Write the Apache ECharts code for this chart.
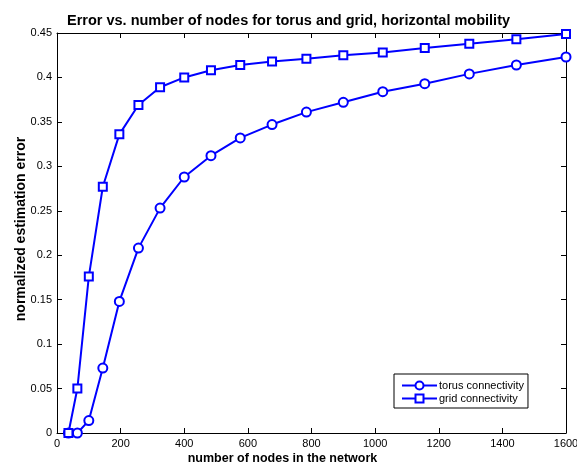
<!DOCTYPE html>
<html><head><meta charset="utf-8">
<script src="https://cdn.jsdelivr.net/npm/echarts@6/dist/echarts.min.js"></script>
<style>html,body{margin:0;padding:0;background:#fff;overflow:hidden}#c{width:577px;height:466px}</style>
</head><body><div id="c"></div>
<script>
const nodes = [36, 64, 100, 144, 196, 256, 324, 400, 484, 576, 676, 784, 900, 1024, 1156, 1296, 1444, 1600];
const torus = [0, 0, 0.014, 0.073, 0.148, 0.208, 0.253, 0.288, 0.312, 0.332, 0.347, 0.361, 0.372, 0.384, 0.393, 0.404, 0.414, 0.423];
const grid = [0, 0.05, 0.176, 0.277, 0.336, 0.369, 0.389, 0.400, 0.408, 0.414, 0.418, 0.421, 0.425, 0.428, 0.433, 0.438, 0.443, 0.449];
const seriesNames = ['torus connectivity', 'grid connectivity'];
const titleText = 'Error vs. number of nodes for torus and grid, horizontal mobility';
const xLabel = 'number of nodes in the network';
const yLabel = 'normalized estimation error';

const font = '"Liberation Sans", Arial, Helvetica, sans-serif';
const chart = echarts.init(document.getElementById('c'), null, {width: 577, height: 466});
const axisCommon = {
  axisLine: {show: true, onZero: false, lineStyle: {color: '#000', width: 1}},
  axisTick: {show: true, inside: true, length: 5, lineStyle: {color: '#000'}},
  splitLine: {show: false}
};
chart.setOption({
  backgroundColor: '#fff',
  animation: false,
  title: {text: titleText, left: 'center', top: 8,
    textStyle: {fontFamily: font, fontSize: 14.5, fontWeight: 'bold', color: '#000'}},
  grid: {left: 57, right: 11, top: 33, bottom: 33, containLabel: false, outerBoundsMode: 'none'},
  xAxis: [
    Object.assign({type: 'value', min: 0, max: 1600, interval: 200, position: 'bottom',
      name: xLabel, nameLocation: 'middle', nameGap: 19, nameMoveOverlap: false,
      nameTextStyle: {fontFamily: font, fontSize: 12.5, fontWeight: 'bold', color: '#000', padding: [0, 58, 0, 0]},
      axisLabel: {fontFamily: font, fontSize: 11, color: '#000', margin: 5, formatter: v => String(v)}}, axisCommon),
    Object.assign({type: 'value', min: 0, max: 1600, interval: 200, position: 'top',
      axisLabel: {show: false}}, axisCommon)
  ],
  yAxis: [
    Object.assign({type: 'value', min: 0, max: 0.45, interval: 0.05, position: 'left',
      name: yLabel, nameLocation: 'middle', nameGap: 29, nameMoveOverlap: false,
      nameTextStyle: {fontFamily: font, fontSize: 14, fontWeight: 'bold', color: '#000', padding: [0, 0, 0, 8]},
      axisLabel: {fontFamily: font, fontSize: 11, color: '#000', margin: 5,
        formatter: v => String(+v.toFixed(2))}}, axisCommon),
    Object.assign({type: 'value', min: 0, max: 0.45, interval: 0.05, position: 'right',
      axisLabel: {show: false}}, axisCommon)
  ],
  legend: {
    orient: 'vertical', left: 394, top: 374,
    backgroundColor: '#fff', borderColor: '#000', borderWidth: 1, borderRadius: 0,
    padding: [6, 4, 4, 7], itemGap: 2, itemWidth: 35, itemHeight: 10,
    textStyle: {fontFamily: font, fontSize: 11, color: '#000', padding: [0, 0, 0, -3]},
    data: seriesNames
  },
  series: [
    {name: seriesNames[0], type: 'line', data: nodes.map((x, i) => [x, torus[i]]),
      symbol: 'emptyCircle', symbolSize: 9, clip: false,
      lineStyle: {color: '#0000ff', width: 2}, itemStyle: {color: '#0000ff', borderColor: '#0000ff', borderWidth: 2}},
    {name: seriesNames[1], type: 'line', data: nodes.map((x, i) => [x, grid[i]]),
      symbol: 'emptyRect', symbolSize: 8, clip: false,
      lineStyle: {color: '#0000ff', width: 2}, itemStyle: {color: '#0000ff', borderColor: '#0000ff', borderWidth: 2}}
  ]
});
</script></body></html>
